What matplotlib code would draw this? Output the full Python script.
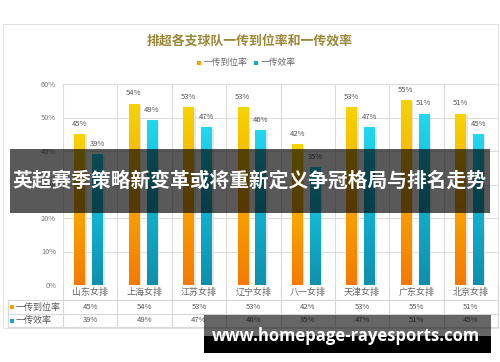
import matplotlib
matplotlib.use("Agg")
import matplotlib.pyplot as plt
import numpy as np
from matplotlib.patches import Rectangle
from matplotlib.colors import LinearSegmentedColormap

plt.rcParams['font.family'] = ['Noto Sans CJK SC', 'DejaVu Sans']

categories = ['山东女排', '上海女排', '江苏女排', '辽宁女排', '八一女排', '天津女排', '广东女排', '北京女排']
pass_rate = [45, 54, 53, 53, 42, 53, 55, 51]
pass_eff = [39, 49, 47, 46, 35, 47, 51, 45]
series_names = ['一传到位率', '一传效率']
yticks = [0, 10, 20, 30, 40, 50, 60]
title = '排超各支球队一传到位率和一传效率'
banner = '英超赛季策略新变革或将重新定义争冠格局与排名走势'
watermark = 'www.homepage-rayesports.com'

W, H = 500, 362
fig = plt.figure(figsize=(W / 100, H / 100), dpi=100)
fig.patch.set_facecolor('white')

def fx(px):
    return px / W

def fy(py):
    return 1 - py / H

# card
fig.add_artist(Rectangle((fx(3), fy(328)), fx(498) - fx(3), fy(24) - fy(328),
                         transform=fig.transFigure, facecolor='white',
                         edgecolor='#e2e2e2', lw=0.8, zorder=0))

# title & legend
fig.text(0.5, fy(40), title, ha='center', va='center', fontsize=9.3,
         color='#9a8838', fontweight='bold')
fig.add_artist(Rectangle((fx(197), fy(64.5)), 4 / W, 4 / H, transform=fig.transFigure,
                         facecolor='#f5a000', edgecolor='none'))
fig.text(fx(204), fy(62), series_names[0], ha='left', va='center', fontsize=6.3, color='#666666')
fig.add_artist(Rectangle((fx(254), fy(64.5)), 4 / W, 4 / H, transform=fig.transFigure,
                         facecolor='#15a8c8', edgecolor='none'))
fig.text(fx(261), fy(62), series_names[1], ha='left', va='center', fontsize=6.3, color='#666666')

# main plot axes
x0, x1 = 63, 498
ytop, ybot = 84, 285
ax = fig.add_axes([fx(x0), fy(ybot), fx(x1) - fx(x0), fy(ytop) - fy(ybot)])
n = len(categories)
ax.set_xlim(0, n)
ax.set_ylim(0, 60)
for s in ax.spines.values():
    s.set_visible(False)
ax.set_xticks([])
ax.set_yticks(yticks)
ax.set_yticklabels([f'{v}%' for v in yticks], fontsize=5.3, color='#777777')
ax.tick_params(axis='y', length=0, pad=5)
for v in yticks:
    ax.axhline(v, color='#dcdcdc', lw=0.8, zorder=0)
for i in range(n + 1):
    ax.axvline(i, color='#dcdcdc', lw=0.8, zorder=0)

cmap_o = LinearSegmentedColormap.from_list('o', ['#f57a00', '#f8a800', '#f6d400'])
cmap_t = LinearSegmentedColormap.from_list('t', ['#0f8fae', '#12b2d0', '#22d8f0'])
grad = np.linspace(0, 1, 256).reshape(-1, 1)

def gbar(xl, xr, val, cmap):
    # shadow
    ax.add_patch(Rectangle((xr, 0), 0.04, val - 0.3, facecolor='#e6e6e6', edgecolor='none', zorder=1))
    ax.imshow(grad, extent=[xl, xr, 0, val], origin='lower', cmap=cmap,
              aspect='auto', zorder=2, interpolation='bilinear')

for i in range(n):
    gbar(i + 0.21, i + 0.40, pass_rate[i], cmap_o)
    gbar(i + 0.54, i + 0.73, pass_eff[i], cmap_t)
    ax.text(i + 0.305, pass_rate[i] + 3.2, f'{pass_rate[i]}%', ha='center', va='center',
            fontsize=5.5, color='#555555', zorder=3)
    ax.text(i + 0.635, pass_eff[i] + 3.2, f'{pass_eff[i]}%', ha='center', va='center',
            fontsize=5.5, color='#555555', zorder=3)
ax.set_xlim(0, n)
ax.set_ylim(0, 60)

# table axes
t0 = 8
tb = 327
axt = fig.add_axes([fx(t0), fy(tb), fx(x1) - fx(t0), fy(ybot) - fy(tb)])
left_ext = (x0 - t0) / ((x1 - x0) / n)
axt.set_xlim(-left_ext, n)
axt.set_ylim(tb - ybot, 0)  # pixel rows, downward
axt.axis('off')
rows_y = [0, 15, 29, 42]
lc = '#d8d8d8'
for yy in rows_y[1:]:
    axt.plot([-left_ext, n], [yy, yy], color=lc, lw=0.8, clip_on=False)
for i in range(n + 1):
    axt.plot([i, i], [0, 42], color=lc, lw=0.8, clip_on=False)
axt.plot([-left_ext, -left_ext], [15, 42], color=lc, lw=0.8, clip_on=False)
for i, c in enumerate(categories):
    axt.text(i + 0.5, 7.5, c, ha='center', va='center', fontsize=6.5, color='#666666')
    axt.text(i + 0.5, 22, f'{pass_rate[i]}%', ha='center', va='center', fontsize=5.5, color='#555555')
    axt.text(i + 0.5, 35.5, f'{pass_eff[i]}%', ha='center', va='center', fontsize=5.5, color='#555555')
fig.add_artist(Rectangle((fx(10), fy(309)), 4 / W, 4 / H, transform=fig.transFigure,
                         facecolor='#f5a000', edgecolor='none'))
fig.text(fx(16), fy(307), series_names[0], ha='left', va='center', fontsize=6.5, color='#555555')
fig.add_artist(Rectangle((fx(10), fy(322.5)), 4 / W, 4 / H, transform=fig.transFigure,
                         facecolor='#15a8c8', edgecolor='none'))
fig.text(fx(16), fy(320.5), series_names[1], ha='left', va='center', fontsize=6.5, color='#555555')

# banner overlay
fig.add_artist(Rectangle((fx(10), fy(212.5)), fx(490) - fx(10), fy(149) - fy(212.5),
                         transform=fig.transFigure, facecolor='black', alpha=0.65,
                         edgecolor='none', zorder=10))
fig.text(fx(249.5), fy(181), banner, ha='center', va='center', fontsize=14.2,
         color='white', fontweight='bold', zorder=11)

# watermark
fig.add_artist(Rectangle((fx(204), fy(336)), fx(491) - fx(204), fy(315) - fy(336),
                         transform=fig.transFigure, facecolor='black', alpha=0.6,
                         edgecolor='none', zorder=10))
fig.add_artist(Rectangle((fx(204), fy(353)), fx(491) - fx(204), fy(336) - fy(353),
                         transform=fig.transFigure, facecolor='black',
                         edgecolor='none', zorder=10))
fig.text(fx(346), fy(336), watermark, ha='center', va='center', fontsize=12,
         color='white', fontweight='bold', family=['Open Sans', 'DejaVu Sans'], zorder=11)

fig.savefig('out.png', dpi=100)
